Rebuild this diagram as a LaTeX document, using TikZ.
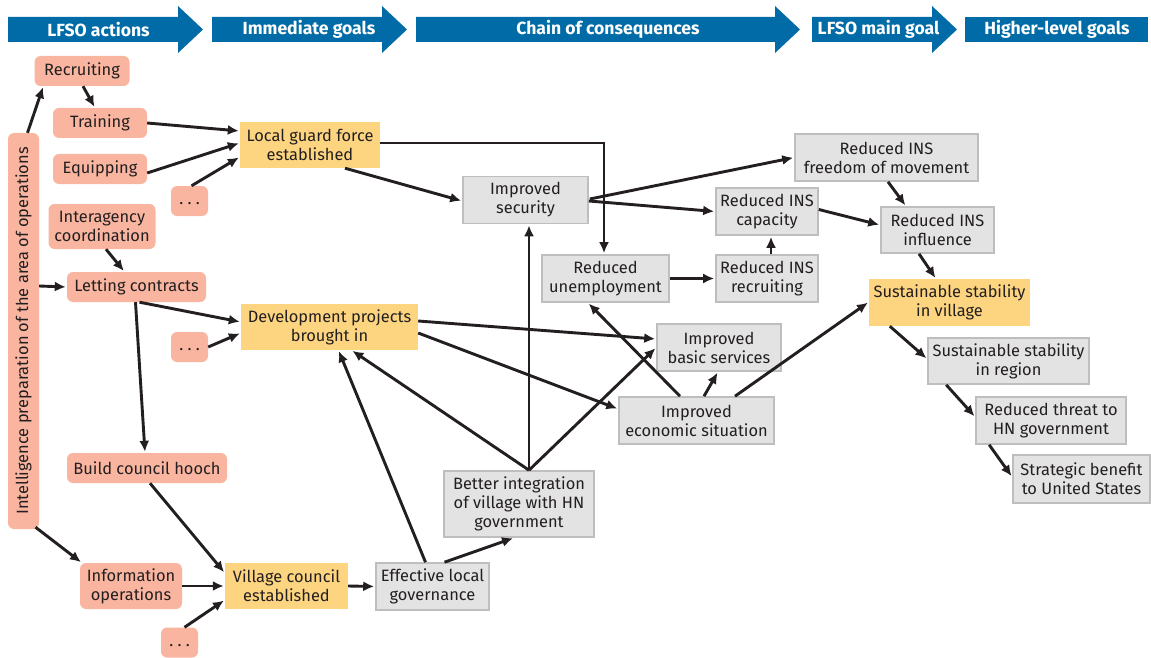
\documentclass[tikz,border=0pt]{standalone}
\usepackage{fontspec}
\setmainfont{Fira Sans}
\usetikzlibrary{arrows.meta,calc,positioning}
\definecolor{hdrblue}{RGB}{0,107,166}
\definecolor{actfill}{RGB}{249,181,160}
\definecolor{goalfill}{RGB}{253,213,128}
\definecolor{consfill}{RGB}{227,227,227}
\definecolor{consline}{RGB}{190,190,193}
\definecolor{ink}{RGB}{35,31,32}

\begin{document}
\begin{tikzpicture}[x=1pt,y=-1pt,>={Latex[length=11pt,width=10pt]},
  font=\fontsize{16.4}{19}\selectfont, text=ink,
  box/.style 2 args={minimum width=#1pt,minimum height=#2pt},
  act/.style={fill=actfill,rounded corners=6pt,inner sep=0pt,align=center},
  goal/.style={fill=goalfill,inner sep=0pt,align=center},
  cons/.style={fill=consfill,draw=consline,line width=1.6pt,inner sep=0pt,align=center},
  hdr/.style={text=white,font=\fontsize{17.6}{19}\selectfont\bfseries},
  link/.style={->,draw=ink,line width=2.9pt,shorten >=1pt}]
\useasboundingbox (0,0) rectangle (1151,658);
% header arrows
\fill[hdrblue] (8,17) -- (178,17) -- (178,6) -- (203,29.5) -- (178,53) -- (178,42) -- (8,42) -- cycle;
\fill[hdrblue] (212,17) -- (382,17) -- (382,6) -- (407,29.5) -- (382,53) -- (382,42) -- (212,42) -- cycle;
\fill[hdrblue] (416,17) -- (775,17) -- (775,6) -- (800,29.5) -- (775,53) -- (775,42) -- (416,42) -- cycle;
\fill[hdrblue] (812,17) -- (932,17) -- (932,6) -- (957,29.5) -- (932,53) -- (932,42) -- (812,42) -- cycle;
\fill[hdrblue] (965,17) rectangle (1148,42);
\node[hdr] (hdrA) at (98.5,29.5) {LFSO actions};
\node[hdr] (hdrB) at (309,29.5) {Immediate goals};
\node[hdr] (hdrC) at (608,29.5) {Chain of consequences};
\node[hdr] (hdrD) at (878.5,29.5) {LFSO main goal};
\node[hdr] (hdrE) at (1057,29.5) {Higher-level goals};
% LFSO actions
\node[act,box={31}{396}] (intel) at (23.5,331) {\rotatebox{90}{Intelligence preparation of the area of operations}};
\node[act,box={95}{30}] (recr) at (82,71) {Recruiting};
\node[act,box={94}{30}] (train) at (100,123) {Training};
\node[act,box={94}{30}] (equip) at (100,169) {Equipping};
\node[act,box={37}{30}] (dotsA) at (189.5,201) {.\ .\ .\strut};
\node[act,box={107}{45}] (inter) at (102,226.5) {Interagency\\coordination};
\node[act,box={139}{30}] (lett) at (136.5,287) {Letting contracts};
\node[act,box={37}{30}] (dotsB) at (189.5,347) {.\ .\ .\strut};
\node[act,box={160}{30}] (build) at (147,468) {Build council hooch};
\node[act,box={102}{46}] (info) at (131,586) {Information\\operations};
\node[act,box={37}{30}] (dotsC) at (179.5,642.5) {.\ .\ .\strut};
% immediate and main goals
\node[goal,box={140}{46}] (guard) at (310,145) {Local guard force\\established};
\node[goal,box={177}{46}] (dev) at (329.5,327) {Development projects\\brought in};
\node[goal,box={123}{46}] (vc) at (286.5,586) {Village council\\established};
\node[goal,box={161}{47}] (sv) at (949.5,302.5) {Sustainable stability\\in village};
% chain of consequences
\node[cons,box={125}{47}] (sec) at (525.5,200) {Improved\\security};
\node[cons,box={127}{47}] (unemp) at (605.5,278.5) {Reduced\\unemployment};
\node[cons,box={102}{47}] (cap) at (767,211.5) {Reduced INS\\capacity};
\node[cons,box={102}{47}] (insr) at (767,278.5) {Reduced INS\\recruiting};
\node[cons,box={183}{47}] (free) at (886.5,157.5) {Reduced INS\\freedom of movement};
\node[cons,box={113}{46}] (infl) at (937.5,230) {Reduced INS\\influence};
\node[cons,box={124}{47}] (basic) at (719,347.5) {Improved\\basic services};
\node[cons,box={155}{47}] (econ) at (696.5,420.5) {Improved\\economic situation};
\node[cons,box={150}{66}] (bi) at (519,504) {Better integration\\of village with HN\\government};
\node[cons,box={113}{47}] (eff) at (432.5,586.5) {Effective local\\governance};
% higher-level goals
\node[cons,box={161}{46}] (reg) at (1008.5,361) {Sustainable stability\\in region};
\node[cons,box={150}{47}] (thr) at (1051,420.5) {Reduced threat to\\HN government};
\node[cons,box={137}{48}] (strat) at (1081.5,479) {Strategic benefit\\to United States};
% links
\draw[link] ($(intel.north)+(4,0)$) -- ($(recr.south west)+(9,0)$);
\draw[link] ($(recr.south)+(1,0)$) -- ($(train.north)+(-5,0)$);
\draw[link] (train.east) -- ($(guard.west)+(0,-14)$);
\draw[link] ($(equip.east)+(0,4)$) -- ($(guard.west)+(0,-2)$);
\draw[link] ($(dotsA.north)+(2,0)$) -- ($(guard.west)+(0,12)$);
\draw[link] ($(inter.south)+(4,0)$) -- ($(lett.north)+(-12,0)$);
\draw[link] ($(intel.east)+(0,-45)$) -- (lett.west);
\draw[link] ($(lett.south)+(3,0)$) -- ($(dev.west)+(0,-5)$);
\draw[link] (dotsB.east) -- ($(dev.west)+(0,6)$);
\draw[link] ($(lett.south)+(-1,0)$) -- ($(build.north)+(-2,0)$);
\draw[link] ($(intel.south)+(12,-2)$) -- ($(info.north west)+(2,0)$);
\draw[link] ($(build.south)+(3,0)$) -- ($(vc.west)+(0,-13)$);
\draw[link] (info.east) -- (vc.west);
\draw[link] ($(dotsC.north)+(5,0)$) -- ($(vc.west)+(0,14)$);
\draw[link] (vc.east) -- (eff.west);
\draw[link] ($(eff.north)+(12,0)$) -- ($(bi.south)+(-5,0)$);
\draw[link] ($(eff.north)+(-7,0)$) -- ($(dev.south)+(9,0)$);
\draw[link] ($(bi.north)+(10,0)$) -- ($(dev.south)+(22,0)$);
\draw[link] ($(bi.north)+(10,0)$) -- ($(sec.south)+(3.5,0)$);
\draw[link] ($(bi.north)+(10,0)$) -- (basic.west);
\draw[link] ($(guard.south)+(35,0)$) -- ($(sec.west)+(0,1)$);
\draw[link] ($(guard.east)+(0,-2)$) -| ($(unemp.north)+(-1.5,0)$);
\draw[link] ($(sec.east)+(1,-1)$) -- (free.west);
\draw[link] ($(sec.east)+(0,1)$) -- (cap.west);
\draw[link] (unemp.east) -- (insr.west);
\draw[link] ($(insr.north)+(4,0)$) -- ($(cap.south)+(4,0)$);
\draw[link] ($(cap.east)+(0,-2)$) -- ($(infl.west)+(0,-5)$);
\draw[link] ($(free.south)+(1.5,0)$) -- ($(infl.north)+(-31.5,0)$);
\draw[link] ($(infl.south)+(-18.5,0)$) -- ($(sv.north)+(-13.5,0)$);
\draw[link] ($(dev.east)+(0,-6)$) -- ($(basic.west)+(0,-8.5)$);
\draw[link] ($(dev.east)+(0,6)$) -- ($(econ.west)+(0,-11.5)$);
\draw[link] ($(econ.north)+(-16.5,0)$) -- ($(unemp.south)+(-17.5,0)$);
\draw[link] ($(econ.north)+(7.5,0)$) -- ($(basic.south)+(-1,0)$);
\draw[link] ($(econ.north)+(38.5,0)$) -- ($(sv.west)+(0,-0.5)$);
\draw[link] ($(sv.south west)+(21,0)$) -- ($(reg.west)+(0,-2)$);
\draw[link] ($(reg.south west)+(19,0)$) -- ($(thr.west)+(0,-3.5)$);
\draw[link] ($(thr.south west)+(14,0)$) -- ($(strat.west)+(0,-2)$);
\end{tikzpicture}
\end{document}
